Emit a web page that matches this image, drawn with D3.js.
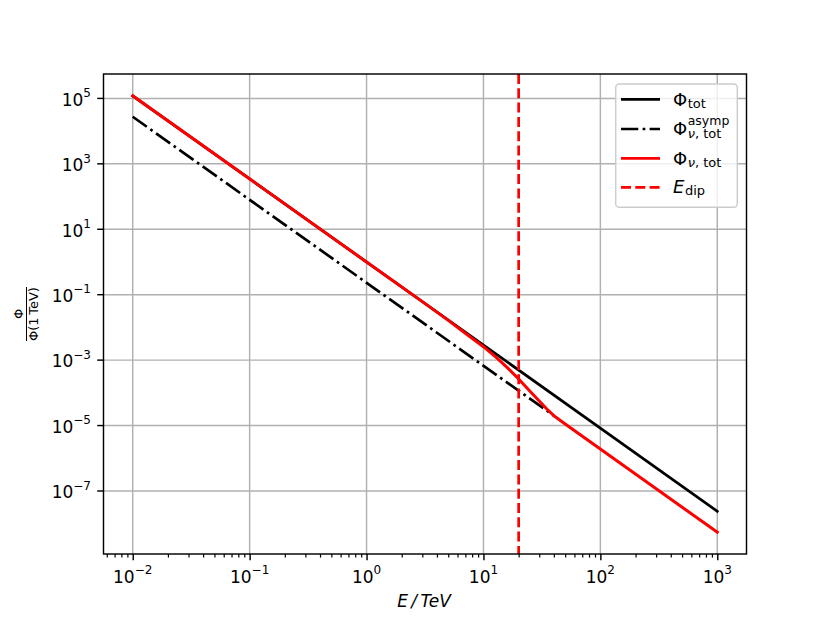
<!DOCTYPE html>
<html>
<head>
<meta charset="utf-8">
<script src="https://cdn.jsdelivr.net/npm/d3@7"></script>
<style>
  body { margin: 0; background: #fff; }
  text { font-family: "DejaVu Sans", sans-serif; fill: #000; }
</style>
</head>
<body>
<script>
// energie in TeV
var energieTot = [0.01, 1000];
var fluxTot = [1.2e5, 2.4e-8];

var energieAsymp = [0.01, 40];
var fluxAsymp = [2.75e4, 2.0e-5];

var energieNu = [0.01, 1, 3, 5, 7, 10, 13, 16, 20, 25, 30, 35, 40, 50, 1000];
var fluxNu = [1.2e5, 1.0, 0.0614, 0.0164, 0.00666, 0.00257, 0.001177, 5.91e-4,
              2.66e-4, 1.12e-4, 5.6e-5, 3.15e-5, 2.0e-5, 1.11e-5, 5.5e-9];

var energieDip = 20;

var xTicks = [-2, -1, 0, 1, 2, 3];
var yTicks = [-7, -5, -3, -1, 1, 3, 5];

// stel hoogte en breedte vast
var breedte = 830, hoogte = 623;
var marge = {links: 103.5, rechts: 746.5, boven: 74, beneden: 554};

var svg = d3.select("body").append("svg")
    .attr("width", breedte)
    .attr("height", hoogte);

var x = d3.scaleLog()
    .domain([Math.pow(10, -2.25), Math.pow(10, 3.25)])
    .range([marge.links, marge.rechts]);

var y = d3.scaleLog()
    .domain([Math.pow(10, -8.926), Math.pow(10, 5.746)])
    .range([marge.beneden, marge.boven]);

var lw = 2.7;

// clip voor de lijnen
svg.append("clipPath").attr("id", "clip")
  .append("rect")
    .attr("x", marge.links).attr("y", marge.boven)
    .attr("width", marge.rechts - marge.links)
    .attr("height", marge.beneden - marge.boven);

// rasterlijnen
var raster = svg.append("g");
raster.selectAll(".gx").data(xTicks).enter().append("line")
    .attr("x1", function(d) { return x(Math.pow(10, d)); })
    .attr("x2", function(d) { return x(Math.pow(10, d)); })
    .attr("y1", marge.boven).attr("y2", marge.beneden)
    .attr("stroke", "#b0b0b0").attr("stroke-width", 1.44);
raster.selectAll(".gy").data(yTicks).enter().append("line")
    .attr("y1", function(d) { return y(Math.pow(10, d)); })
    .attr("y2", function(d) { return y(Math.pow(10, d)); })
    .attr("x1", marge.links).attr("x2", marge.rechts)
    .attr("stroke", "#b0b0b0").attr("stroke-width", 1.44);

var lijn = d3.line()
    .x(function(d) { return x(d[0]); })
    .y(function(d) { return y(d[1]); });

var lijnen = svg.append("g").attr("clip-path", "url(#clip)");

lijnen.append("path")
    .attr("d", lijn(d3.zip(energieTot, fluxTot)))
    .attr("fill", "none").attr("stroke", "#000").attr("stroke-width", lw)
    .attr("stroke-linecap", "square");

lijnen.append("path")
    .attr("d", lijn(d3.zip(energieAsymp, fluxAsymp)))
    .attr("fill", "none").attr("stroke", "#000").attr("stroke-width", lw)
    .attr("stroke-dasharray", "17.3,4.3,2.7,4.3");

lijnen.append("path")
    .attr("d", lijn(d3.zip(energieNu, fluxNu)))
    .attr("fill", "none").attr("stroke", "#ff0000").attr("stroke-width", lw + 0.3)
    .attr("stroke-linecap", "square").attr("stroke-linejoin", "round");

lijnen.append("line")
    .attr("x1", x(energieDip)).attr("x2", x(energieDip))
    .attr("y1", marge.boven).attr("y2", marge.beneden)
    .attr("stroke", "#ff0000").attr("stroke-width", lw)
    .attr("stroke-dasharray", "10,4.3");

// x-as met minor ticks
var asX = d3.axisBottom(x)
    .tickValues(x.ticks().filter(function(t) { return t >= x.domain()[0] && t <= x.domain()[1]; }))
    .tickFormat("").tickSize(3.6).tickSizeOuter(0);
var gx = svg.append("g")
    .attr("transform", "translate(0," + marge.beneden + ")")
    .call(asX);
gx.select(".domain").remove();
gx.selectAll("line").attr("stroke-width", 1.2);
gx.selectAll(".tick").filter(function(d) {
    return Math.abs(Math.log10(d) - Math.round(Math.log10(d))) < 1e-9;
  }).select("line").attr("y2", 6.3).attr("stroke-width", 1.44);

var gy = svg.append("g");
gy.selectAll("line").data(yTicks).enter().append("line")
    .attr("x1", marge.links - 6.3).attr("x2", marge.links)
    .attr("y1", function(d) { return y(Math.pow(10, d)); })
    .attr("y2", function(d) { return y(Math.pow(10, d)); })
    .attr("stroke", "#000").attr("stroke-width", 1.44);

function exponent(d) { return d < 0 ? "\u2212" + (-d) : "" + d; }

// x tick labels
xTicks.forEach(function(d) {
  var t = svg.append("text")
      .attr("x", x(Math.pow(10, d))).attr("y", 582.7)
      .attr("text-anchor", "middle").style("font-size", "17px");
  t.append("tspan").text("10");
  t.append("tspan").attr("dy", -8.5).style("font-size", "12px").text(exponent(d));
});

// y tick labels
yTicks.forEach(function(d) {
  var t = svg.append("text")
      .attr("x", 91).attr("y", y(Math.pow(10, d)) + 7.3)
      .attr("text-anchor", "end").style("font-size", "17px");
  t.append("tspan").text("10");
  t.append("tspan").attr("dy", -8.5).style("font-size", "12px").text(exponent(d));
});

// kader
svg.append("rect")
    .attr("x", marge.links).attr("y", marge.boven)
    .attr("width", marge.rechts - marge.links)
    .attr("height", marge.beneden - marge.boven)
    .attr("fill", "none").attr("stroke", "#000").attr("stroke-width", 1.44);

// x-as titel
svg.append("text")
    .attr("x", 424).attr("y", 606.5)
    .attr("text-anchor", "middle")
    .style("font-size", "17px").style("font-style", "italic")
    .text("E\u2009/\u2009TeV");

// y-as titel (breuk)
var yTitel = svg.append("g")
    .attr("transform", "translate(26.5," + ((marge.boven + marge.beneden) / 2) + ") rotate(-90)");
yTitel.append("text").attr("x", 0).attr("y", -4).attr("text-anchor", "middle")
    .style("font-size", "13px").text("\u03a6");
yTitel.append("line").attr("x1", -27).attr("x2", 27).attr("y1", 0).attr("y2", 0)
    .attr("stroke", "#000").attr("stroke-width", 1);
yTitel.append("text").attr("x", 0).attr("y", 11).attr("text-anchor", "middle")
    .style("font-size", "13px").text("\u03a6(1\u2009TeV)");

// legenda
var legenda = svg.append("g");
legenda.append("rect")
    .attr("x", 615.7).attr("y", 84).attr("width", 121.6).attr("height", 123.3)
    .attr("rx", 3.6).attr("ry", 3.6)
    .attr("fill", "#fff").attr("fill-opacity", 0.8)
    .attr("stroke", "#cccccc").attr("stroke-width", 1.44);

var items = [
  {y: 99.3, kleur: "#000", dash: null, basis: "\u03a6", ital: false, sub: "tot", sup: null,
   dyB: 7, dySub: 8.7},
  {y: 129, kleur: "#000", dash: "17.3,4.3,2.7,4.3", basis: "\u03a6", ital: false,
   sub: ["\u03bd", ", tot"], sup: "asymp", dyB: 5.7, dySub: 9, dySup: -4.5},
  {y: 158.3, kleur: "#ff0000", dash: null, basis: "\u03a6", ital: false,
   sub: ["\u03bd", ", tot"], sup: null, dyB: 6.4, dySub: 8.2},
  {y: 187.3, kleur: "#ff0000", dash: "10,4.3", basis: "E", ital: true, sub: "dip", sup: null,
   dyB: 5.9, dySub: 7.6}
];

items.forEach(function(it) {
  legenda.append("line")
      .attr("x1", 621).attr("x2", 660).attr("y1", it.y).attr("y2", it.y)
      .attr("stroke", it.kleur).attr("stroke-width", lw)
      .attr("stroke-dasharray", it.dash);
  var basis = legenda.append("text")
      .attr("x", 673).attr("y", it.y + it.dyB)
      .style("font-size", "18px")
      .style("font-style", it.ital ? "italic" : "normal")
      .text(it.basis);
  var bx = 673 + basis.node().getComputedTextLength() + 0.5;
  var sub = legenda.append("text")
      .attr("x", bx).attr("y", it.y + it.dySub)
      .style("font-size", "13px");
  if (Array.isArray(it.sub)) {
    sub.append("tspan").style("font-style", "italic").text(it.sub[0]);
    sub.append("tspan").text(it.sub[1]);
  } else {
    sub.text(it.sub);
  }
  if (it.sup) {
    legenda.append("text")
        .attr("x", bx).attr("y", it.y + it.dySup)
        .style("font-size", "12.5px")
        .text(it.sup);
  }
});
</script>
</body>
</html>
